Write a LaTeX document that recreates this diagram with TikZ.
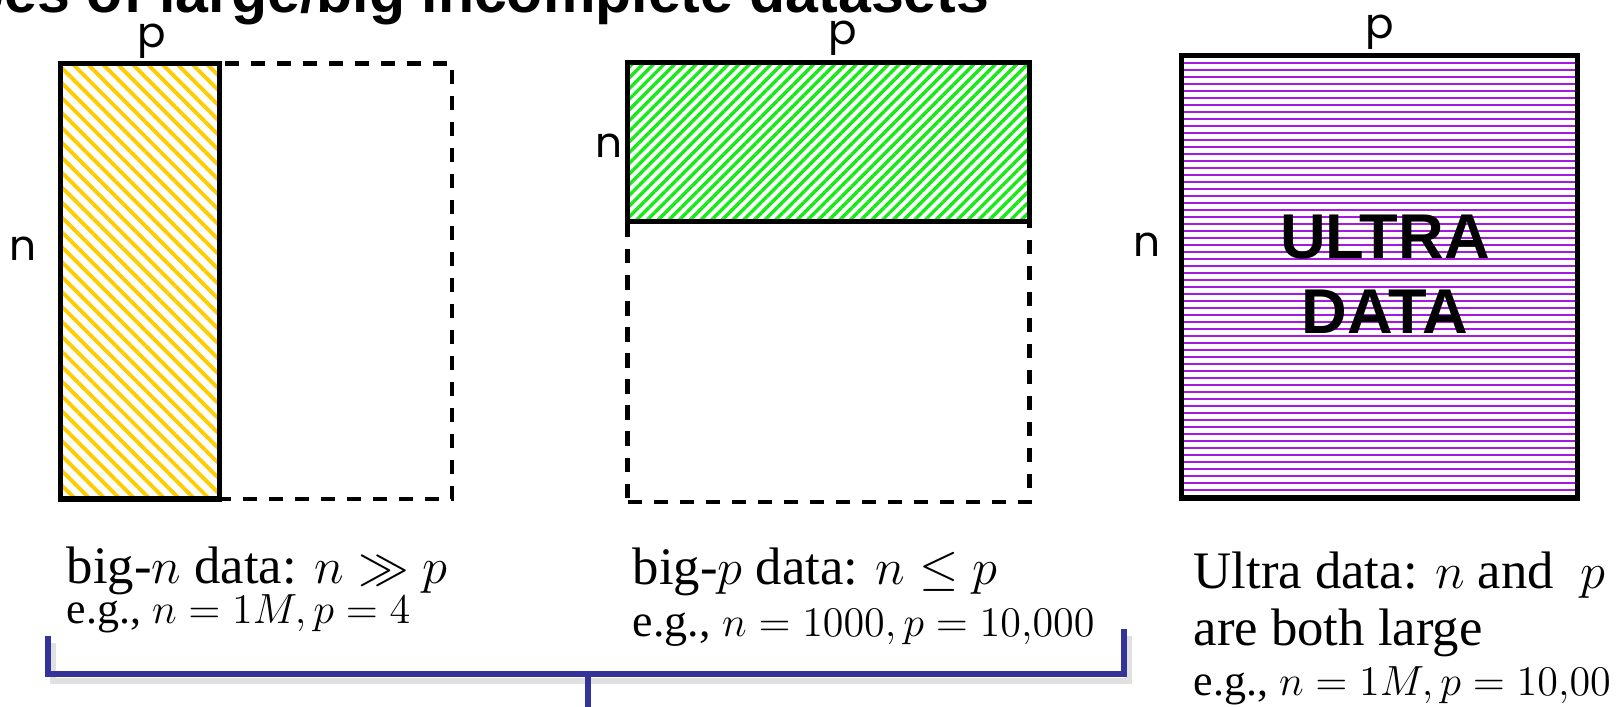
\documentclass[tikz,border=0pt]{standalone}
\usepackage{amsmath,amssymb}
\usepackage{fontspec}
\setmainfont{Liberation Serif}
\newfontfamily\dimfont{Poppins}
\newfontfamily\headfont{Liberation Sans}
\usepackage{tikz}
\usetikzlibrary{
  patterns.meta,
  calc
}
\definecolor{xgold}{RGB}{255,204,0}
\definecolor{xlime}{RGB}{20,235,20}
\definecolor{xviolet}{RGB}{165,25,225}
\definecolor{xnavy}{RGB}{51,51,153}

\begin{document}
\begin{tikzpicture}[
  full/.style={draw=black, line width=1.5pt, inner sep=0pt, outer sep=0pt},
  missing/.style={draw=black, line width=1.2pt, dash pattern=on 4pt off 3.4pt, inner sep=0pt, outer sep=0pt},
  dimlbl/.style={font=\dimfont\fontsize{12}{14}\selectfont, anchor=base, inner sep=0pt},
  caption/.style={font=\fontsize{15}{17}\selectfont, anchor=base west, inner sep=0pt},
  example/.style={font=\fontsize{12.5}{15}\selectfont, anchor=base west, inner sep=0pt},
  bigword/.style={font=\headfont\bfseries\fontsize{18}{21}\selectfont, anchor=base, inner sep=0pt},
  stripe/.style={xviolet, line width=0.57pt},
  brace/.style={draw=xnavy, line width=1.7pt}
]
  \useasboundingbox (0,0) rectangle (16.24,-7.07);
  \clip (0,0) rectangle (16.24,-7.07);

  % heading, cut off by the top edge
  \node[font=\headfont\bfseries\fontsize{16.8}{20}\selectfont, anchor=base east, inner sep=0pt]
    (title) at (9.90,-0.13) {Types of large/big incomplete datasets};

  % big-n
  \node[missing, minimum width=3.915cm, minimum height=4.355cm] (nall) at (2.5625,-2.8125) {};
  \node[full, minimum width=1.59cm, minimum height=4.355cm,
        pattern={Lines[angle=-45, distance=3pt, line width=1.1pt]}, pattern color=xgold] (nobs) at (1.40,-2.8125) {};

  % big-p
  \node[missing, minimum width=4.02cm, minimum height=4.395cm] (pall) at (8.285,-2.8225) {};
  \node[full, minimum width=4.02cm, minimum height=1.59cm,
        pattern={Lines[angle=45, distance=2.15pt, line width=0.95pt]}, pattern color=xlime] (pobs) at (8.285,-1.42) {};

  % ultra
  \node[full, minimum width=3.96cm, minimum height=4.425cm] (uobs) at (13.795,-2.7675) {};
  \begin{scope}
    \clip (uobs.north west) rectangle (uobs.south east);
    \foreach \k in {0,...,62}
      \draw[stripe] (11.815,-0.63-\k*0.07) -- (15.775,-0.63-\k*0.07);
  \end{scope}
  \node[full, minimum width=3.96cm, minimum height=4.425cm] at (uobs) {};
  \node[bigword] (ultra) at (13.85,-2.58) {ULTRA};
  \node[bigword] (dat)   at (13.85,-3.33) {DATA};

  \foreach \nm/\x/\y/\txt in {
    pa/1.52/-0.47/p, na/0.23/-2.60/n,
    pb/8.43/-0.44/p, nb/6.09/-1.57/n,
    pc/13.80/-0.39/p, nc/11.47/-2.56/n
  }{
    \node[dimlbl] (\nm) at (\x,\y) {\txt};
  }

  % captions
  \node[caption] (capa)  at (0.66,-5.83) {big-$n$ data: $n \gg p$};
  \node[example] (exa)   at (0.66,-6.23) {e.g., $n = 1M, p = 4$};
  \node[caption] (capb)  at (6.32,-5.84) {big-$p$ data: $n \leq p$};
  \node[example, font=\fontsize{13.1}{15}\selectfont] (exb) at (6.32,-6.36) {e.g., $n = 1000, p = 10{,}000$};
  \node[caption] (capc)  at (11.93,-5.88) {Ultra data: $n$ and\ \ $p$};
  \node[caption] (capc2) at (11.93,-6.45) {are both large};
  \node[example] (exc)   at (11.93,-6.95) {e.g., $n = 1M, p = 10{,}00$};

  % bracket under the first two
  \coordinate (bl) at (0.48,-6.36);
  \coordinate (br) at (11.24,-6.29);
  \coordinate (bm) at (5.88,-6.74);
  \coordinate (bs) at (5.88,-7.30);
  \draw[brace, draw=black!12, transform canvas={xshift=1.5pt, yshift=-2pt}] (bl) |- (br |- bm) -- (br);
  \draw[brace] (bl) |- (br |- bm) -- (br);
  \draw[brace] (bm) -- (bs);
\end{tikzpicture}
\end{document}
